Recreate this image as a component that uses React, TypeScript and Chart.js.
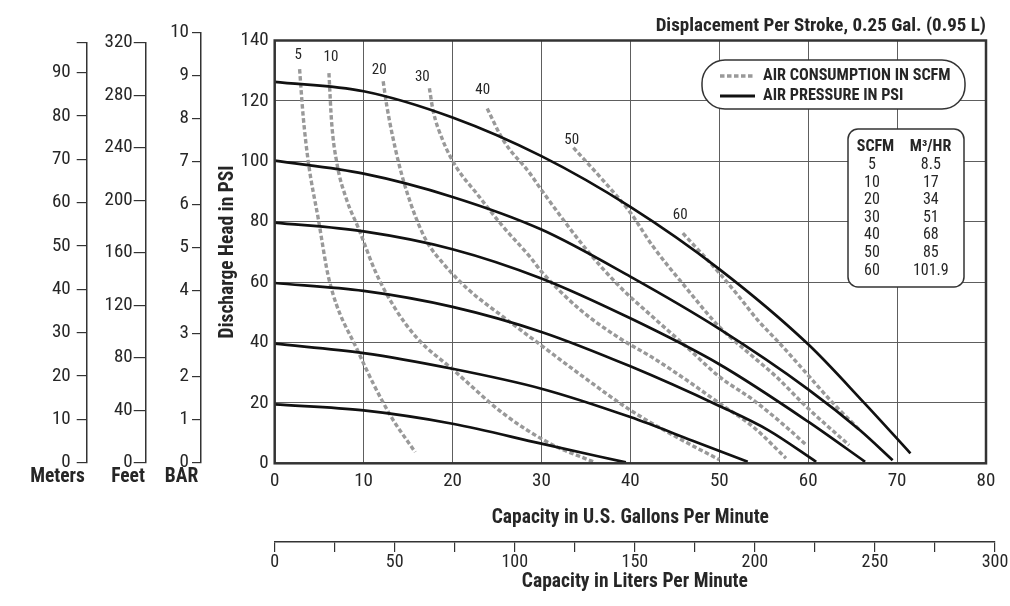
import React, { useEffect, useRef } from 'react';
import { Chart, registerables } from 'chart.js';

Chart.register(...registerables);

const FONT = "'Roboto Condensed', 'DejaVu Sans Condensed', sans-serif";
const INK = '#262626';

// ---------- data: capacity (US GPM) vs discharge head (PSI) ----------
const pressureNames = ['120 PSI', '100 PSI', '80 PSI', '60 PSI', '40 PSI', '20 PSI'];
const psi120 = [[0, 126.3], [10, 123.2], [20, 114.5], [30, 101.7], [40, 84.9], [50, 64.3], [60, 39.4], [66.3, 20], [71.5, 3.3]];
const psi100 = [[0, 100.2], [10, 95.9], [20, 88.2], [30, 77.4], [40, 61.8], [50, 44.5], [60, 24.5], [65.8, 11], [69.5, 1]];
const psi80 = [[0, 79.7], [10, 76.8], [20, 70.9], [30, 61.2], [40, 48], [50, 32.8], [60, 13.8], [66.4, 0.5]];
const psi60 = [[0, 59.7], [10, 57.1], [20, 51.8], [30, 43.5], [40, 32.1], [50, 19], [55.5, 11], [60.9, 0.5]];
const psi40 = [[0, 39.6], [10, 36.5], [20, 31.3], [30, 24.7], [40, 15.3], [47, 7.5], [53.2, 0.5]];
const psi20 = [[0, 19.5], [10, 17.5], [20, 13.1], [30, 6.5], [39.5, 0.3]];
const pressureCurves = [psi120, psi100, psi80, psi60, psi40, psi20];

// ---------- air consumption curves (SCFM) ----------
const scfmNames = ['5', '10', '20', '30', '40', '50', '60'];
const scfm5 = [[2.8, 130.5], [3.2, 115], [3.8, 99.4], [4.9, 81], [6.1, 61], [9.4, 36.9], [12.9, 16.4], [15.8, 3.7]];
const scfm10 = [[6.1, 129.2], [6.4, 113], [7.0, 99.3], [8.1, 87.2], [9.4, 78], [11.4, 63], [13.5, 51.5], [16.0, 41.5], [20.1, 30.9], [25.7, 16.5], [31, 6.5], [36, 0.3]];
const scfm20 = [[12.2, 126.5], [12.6, 118.5], [13.9, 100], [15.3, 86], [17, 74], [19, 66], [21.8, 57.5], [25.7, 48.5], [30, 39], [35, 28], [40, 17.6], [45, 9], [50, 1.2]];
const scfm30 = [[17.4, 124.2], [17.8, 117], [18.9, 107], [20.4, 98.2], [22.7, 89.4], [25.7, 78.3], [28.7, 68.4], [30, 63.5], [34.3, 51], [38.8, 41.4], [42.5, 35], [46.3, 27.6], [50, 19.9], [53.8, 12.1], [57.5, 1.7]];
const scfm40 = [[23.9, 117.5], [25.7, 107], [28.7, 96], [30, 90.5], [35, 71], [38.8, 58.5], [42.5, 48.5], [46.3, 38.6], [50, 28.7], [53.8, 21], [57.5, 12.1], [59.8, 6]];
const scfm50 = [[33.6, 104.5], [36.9, 93.8], [40, 83], [42.5, 72], [46.3, 58], [50, 45.2], [53.8, 35.3], [56.4, 28.7], [59.8, 18.7], [64.6, 6]];
const scfm60 = [[45.9, 76.2], [50, 63], [52.3, 54.9], [54.3, 47.5], [56.8, 39.7], [59.8, 29.8], [62.8, 19.9], [65.8, 11]];
const scfmCurves = [scfm5, scfm10, scfm20, scfm30, scfm40, scfm50, scfm60];
const scfmLabelGpm = [2.65, 6.32, 11.75, 16.6, 23.4, 33.4, 45.6];
const scfmLabelPsi = [135.2, 134.6, 130.2, 127.8, 123.6, 107, 82.2];

const tableHead = ['SCFM', 'M³/HR'];
const tableScfm = ['5', '10', '20', '30', '40', '50', '60'];
const tableM3hr = ['8.5', '17', '34', '51', '68', '85', '101.9'];
const legendLabels = ['AIR CONSUMPTION IN SCFM', 'AIR PRESSURE IN PSI'];

const toXY = (pts: number[][]) => pts.map(([x, y]) => ({ x, y }));
const font = (size: number, weight: string = 'normal') => ({ family: FONT, size, weight, lineHeight: 1.2 });

const PRESSURE_STYLE = { color: '#111', width: 2.7 };
const SCFM_STYLE = { color: '#999', width: 3.4, dash: [4.5, 2.5] };
const TICK_SIZE = 19;
const TITLE_SIZE = 19.5;

function MainChart() {
  const ref = useRef<HTMLCanvasElement>(null);
  useEffect(() => {
    const overlay = {
      id: 'overlay',
      afterDatasetsDraw(chart: any) {
        const { ctx, chartArea: a, scales } = chart;
        const x = scales.x;
        const y = scales.y;
        ctx.save();
        // plot frame
        ctx.lineWidth = 2.5;
        ctx.strokeStyle = '#333';
        ctx.strokeRect(a.left, a.top, a.right - a.left, a.bottom - a.top);
        // curve labels
        ctx.fillStyle = INK;
        ctx.font = `15px ${FONT}`;
        ctx.textAlign = 'center';
        ctx.textBaseline = 'middle';
        scfmNames.forEach((n, i) => ctx.fillText(n, x.getPixelForValue(scfmLabelGpm[i]), y.getPixelForValue(scfmLabelPsi[i])));
        // legend pill
        ctx.beginPath();
        ctx.roundRect(702, 60, 263, 49, 23);
        ctx.fillStyle = '#fff';
        ctx.fill();
        ctx.lineWidth = 1.5;
        ctx.strokeStyle = '#333';
        ctx.stroke();
        ctx.beginPath();
        ctx.setLineDash(SCFM_STYLE.dash);
        ctx.lineWidth = SCFM_STYLE.width;
        ctx.strokeStyle = SCFM_STYLE.color;
        ctx.moveTo(720, 76);
        ctx.lineTo(754, 76);
        ctx.stroke();
        ctx.setLineDash([]);
        ctx.beginPath();
        ctx.lineWidth = 3;
        ctx.strokeStyle = PRESSURE_STYLE.color;
        ctx.moveTo(720, 96);
        ctx.lineTo(755, 96);
        ctx.stroke();
        ctx.fillStyle = INK;
        ctx.font = `bold 16.2px ${FONT}`;
        ctx.textAlign = 'left';
        ctx.fillText(legendLabels[0], 763, 76);
        ctx.fillText(legendLabels[1], 763, 96);
        // conversion table
        ctx.beginPath();
        ctx.roundRect(848, 129, 116, 158, 10);
        ctx.fillStyle = '#fff';
        ctx.fill();
        ctx.lineWidth = 1.5;
        ctx.strokeStyle = '#333';
        ctx.stroke();
        ctx.fillStyle = INK;
        ctx.textAlign = 'center';
        ctx.font = `bold 16px ${FONT}`;
        ctx.fillText(tableHead[0], 875.5, 147);
        ctx.fillText(tableHead[1], 930.5, 147);
        ctx.font = `16px ${FONT}`;
        tableScfm.forEach((s, i) => {
          ctx.fillText(s, 872, 165 + i * 17.6);
          ctx.fillText(tableM3hr[i], 930.8, 165 + i * 17.6);
        });
        ctx.restore();
      },
    };

    const chart = new Chart(ref.current as HTMLCanvasElement, {
      type: 'line',
      data: {
        datasets: [
          ...pressureCurves.map((c, i) => ({
            label: pressureNames[i],
            data: toXY(c),
            borderColor: PRESSURE_STYLE.color,
            borderWidth: PRESSURE_STYLE.width,
            pointRadius: 0,
            fill: false,
            cubicInterpolationMode: 'monotone',
          })),
          ...scfmCurves.map((c, i) => ({
            label: scfmNames[i] + ' SCFM',
            data: toXY(c),
            borderColor: SCFM_STYLE.color,
            borderWidth: SCFM_STYLE.width,
            borderDash: SCFM_STYLE.dash,
            pointRadius: 0,
            fill: false,
            cubicInterpolationMode: 'monotone',
          })),
        ],
      },
      options: {
        responsive: false,
        animation: false,
        events: [],
        layout: { padding: { left: 216, right: 24, top: 14.6, bottom: 76.3 } },
        plugins: {
          legend: { display: false },
          tooltip: { enabled: false },
          title: {
            display: true,
            text: 'Displacement Per Stroke, 0.25 Gal. (0.95 L)',
            align: 'end',
            color: INK,
            font: font(19, 'bold'),
            padding: { top: 0, bottom: 3.1 },
          },
        },
        scales: {
          x: {
            type: 'linear',
            min: 0,
            max: 80,
            afterFit: (s: any) => { s.height = 66.4; },
            grid: { color: '#5e5e5e', lineWidth: 1, drawTicks: false },
            border: { display: false },
            ticks: { stepSize: 10, padding: 6.3, color: INK, font: font(TICK_SIZE), maxRotation: 0 },
            title: { display: true, text: 'Capacity in U.S. Gallons Per Minute', color: INK, font: font(TITLE_SIZE, 'bold'), padding: 0 },
          },
          y: {
            type: 'linear',
            min: 0,
            max: 140,
            afterFit: (s: any) => { s.width = 58.7; },
            grid: { color: '#5e5e5e', lineWidth: 1, drawTicks: false },
            border: { display: false },
            ticks: { stepSize: 20, padding: 6, color: INK, font: font(TICK_SIZE) },
            title: { display: true, text: 'Discharge Head in PSI', color: INK, font: font(TITLE_SIZE, 'bold'), padding: 0 },
          },
        },
      } as any,
      plugins: [overlay],
    });
    return () => chart.destroy();
  }, []);
  return <canvas ref={ref} width={1010} height={606} style={{ position: 'absolute', left: 0, top: 0 }} />;
}

type UnitAxisProps = { left: number; width: number; axisX: number; top: number; bottom: number; max: number; step: number; title: string; tickLength?: number; pad?: number };

function UnitAxis({ left, width, axisX, top, bottom, max, step, title, tickLength = 10, pad = 3 }: UnitAxisProps) {
  const ref = useRef<HTMLCanvasElement>(null);
  useEffect(() => {
    const H = 500;
    const titlePadTop = 2.3;
    const titleH = TITLE_SIZE * 1.2 + titlePadTop;
    const chart = new Chart(ref.current as HTMLCanvasElement, {
      type: 'line',
      data: { datasets: [] },
      options: {
        responsive: false,
        animation: false,
        events: [],
        layout: { padding: { left: 0, right: 0, top, bottom: H - bottom - titleH } },
        plugins: {
          legend: { display: false },
          tooltip: { enabled: false },
          title: { display: true, position: 'bottom', text: title, color: INK, font: font(TITLE_SIZE, 'bold'), padding: { top: titlePadTop, bottom: 0 } },
        },
        scales: {
          x: { type: 'linear', display: false },
          y: {
            type: 'linear',
            position: 'left',
            min: 0,
            max,
            afterFit: (s: any) => { s.width = axisX - left; },
            grid: { drawOnChartArea: false, drawTicks: true, tickLength, color: '#333', lineWidth: 1.2 },
            border: { display: true, color: '#333', width: 1.5 },
            ticks: {
              stepSize: step,
              autoSkip: false,
              padding: pad,
              color: INK,
              font: font(TICK_SIZE),
              callback: (v: any) => (Math.abs(v / step - Math.round(v / step)) < 1e-6 ? String(v) : ''),
            },
          },
        },
      } as any,
    });
    return () => chart.destroy();
  }, []);
  return <canvas ref={ref} width={width} height={500} style={{ position: 'absolute', left, top: 0 }} />;
}

function LitersAxis() {
  const ref = useRef<HTMLCanvasElement>(null);
  useEffect(() => {
    const chart = new Chart(ref.current as HTMLCanvasElement, {
      type: 'line',
      data: { datasets: [] },
      options: {
        responsive: false,
        animation: false,
        events: [],
        layout: { padding: { left: 274.7, right: 15, top: 0, bottom: 12.3 } },
        plugins: { legend: { display: false }, tooltip: { enabled: false } },
        scales: {
          y: { type: 'linear', display: false },
          x: {
            type: 'linear',
            position: 'bottom',
            min: 0,
            max: 300,
            afterFit: (s: any) => { s.height = 51.7; },
            grid: { drawOnChartArea: false, drawTicks: true, tickLength: 10, color: '#333', lineWidth: 1.2 },
            border: { display: true, color: '#333', width: 1.5 },
            ticks: {
              stepSize: 25,
              autoSkip: false,
              maxRotation: 0,
              padding: 0,
              color: INK,
              font: font(18),
              callback: (v: any) => (v % 50 === 0 ? String(v) : ''),
            },
            title: { display: true, text: 'Capacity in Liters Per Minute', color: INK, font: font(TITLE_SIZE, 'bold'), padding: 0 },
          },
        },
      } as any,
    });
    return () => chart.destroy();
  }, []);
  return <canvas ref={ref} width={1010} height={76} style={{ position: 'absolute', left: 0, top: 530 }} />;
}

export default function App() {
  return (
    <div style={{ position: 'fixed', left: 0, top: 0, width: 1010, height: 606, background: '#fff', overflow: 'hidden' }}>
      <MainChart />
      <UnitAxis left={0} width={115} axisX={86.7} top={42.7} bottom={462.7} max={96.9} step={10} title="Meters" pad={6} />
      <UnitAxis left={100} width={56} axisX={145.7} top={42.7} bottom={462.7} max={320} step={40} title="Feet" tickLength={12} pad={1} />
      <UnitAxis left={160} width={43} axisX={201} top={32.3} bottom={462.7} max={10} step={1} title="BAR" tickLength={9} />
      <LitersAxis />
    </div>
  );
}
